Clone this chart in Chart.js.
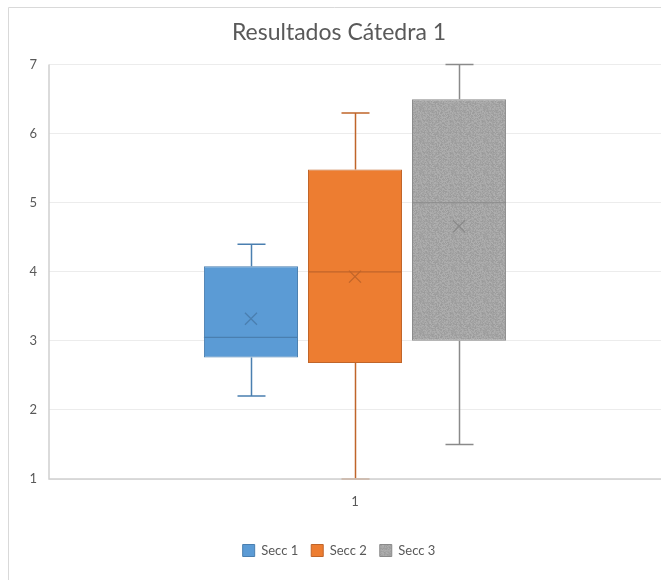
<!DOCTYPE html>
<html>
<head>
<meta charset="utf-8">
<title>Resultados Cátedra 1</title>
<script src="https://cdn.jsdelivr.net/npm/chart.js@4.4.1/dist/chart.umd.min.js"></script>
<style>
  html, body { margin: 0; padding: 0; background: #ffffff; }
  #wrap { position: relative; width: 661px; height: 580px; }
  canvas { display: block; }
</style>
</head>
<body>
<div id="wrap"><canvas id="chart" width="661" height="580"></canvas></div>
<script>
// Box-plot summary for each section (grades on the 1–7 scale)
const categories = ['1'];
const seriesNames = ['Secc 1', 'Secc 2', 'Secc 3'];
const minValues = [2.2, 1.0, 1.5];
const q1Values = [2.76, 2.68, 3.0];
const medianValues = [3.05, 4.0, 5.0];
const q3Values = [4.08, 5.48, 6.5];
const maxValues = [4.4, 6.3, 7.0];
const meanValues = [3.32, 3.93, 4.66];
const yTicks = [1, 2, 3, 4, 5, 6, 7];

const fillColors = ['#5B9BD5', '#ED7D31', '#A5A5A5'];
const edgeColors = ['#4A7FB0', '#C0652A', '#8A8A8A'];

// Fine grainy texture for the grey box
function grainPattern(base) {
  const c = document.createElement('canvas');
  c.width = 32; c.height = 32;
  const g = c.getContext('2d');
  g.fillStyle = base;
  g.fillRect(0, 0, 32, 32);
  const img = g.getImageData(0, 0, 32, 32);
  for (let p = 0; p < 32 * 32; p++) {
    const h = Math.sin(p * 12.9898 + 78.233) * 43758.5453;
    const n = ((h - Math.floor(h)) - 0.5) * 22;
    for (let k = 0; k < 3; k++) {
      img.data[p * 4 + k] = Math.max(0, Math.min(255, img.data[p * 4 + k] + n));
    }
  }
  g.putImageData(img, 0, 0);
  return g.createPattern(c, 'repeat');
}
const fills = [fillColors[0], fillColors[1], grainPattern(fillColors[2])];

// Whiskers, caps, median line, mean marker and the axis lines on top
const boxWhiskers = {
  id: 'boxWhiskers',
  beforeDraw(chart) {
    const ctx = chart.ctx;
    ctx.save();
    ctx.strokeStyle = '#d9d9d9';
    ctx.lineWidth = 1;
    ctx.beginPath();
    ctx.moveTo(8.5, chart.height);
    ctx.lineTo(8.5, 7.5);
    ctx.lineTo(chart.width, 7.5);
    ctx.stroke();
    ctx.restore();
  },
  afterDatasetsDraw(chart) {
    const ctx = chart.ctx;
    const y = chart.scales.y;
    const area = chart.chartArea;
    ctx.save();
    seriesNames.forEach((name, i) => {
      const bar = chart.getDatasetMeta(i).data[0];
      if (!bar) return;
      const cx = Math.round(bar.x) + 0.5;
      const half = bar.width / 2;
      const cap = 14;
      const yMin = y.getPixelForValue(minValues[i]);
      const yQ1 = y.getPixelForValue(q1Values[i]);
      const yMed = y.getPixelForValue(medianValues[i]);
      const yQ3 = y.getPixelForValue(q3Values[i]);
      const yMax = y.getPixelForValue(maxValues[i]);
      const yMean = y.getPixelForValue(meanValues[i]);
      ctx.strokeStyle = edgeColors[i];
      ctx.lineWidth = 1.5;
      ctx.beginPath();
      ctx.moveTo(cx, yQ3); ctx.lineTo(cx, yMax);
      ctx.moveTo(cx - cap, yMax); ctx.lineTo(cx + cap, yMax);
      ctx.moveTo(cx, yQ1); ctx.lineTo(cx, yMin);
      ctx.moveTo(cx - cap, yMin); ctx.lineTo(cx + cap, yMin);
      ctx.stroke();
      ctx.lineWidth = 1.2;
      ctx.beginPath();
      ctx.moveTo(bar.x - half, yMed); ctx.lineTo(bar.x + half, yMed);
      ctx.stroke();
      const m = 6;
      ctx.lineWidth = 1.3;
      ctx.beginPath();
      ctx.moveTo(bar.x - m, yMean - m); ctx.lineTo(bar.x + m, yMean + m);
      ctx.moveTo(bar.x - m, yMean + m); ctx.lineTo(bar.x + m, yMean - m);
      ctx.stroke();
    });
    ctx.strokeStyle = '#d0d0d0';
    ctx.lineWidth = 1.5;
    ctx.beginPath();
    ctx.moveTo(area.left, area.top);
    ctx.lineTo(area.left, area.bottom);
    ctx.lineTo(area.right, area.bottom);
    ctx.stroke();
    ctx.restore();
  }
};

const fontFamily = 'Lato, "Open Sans", sans-serif';

new Chart(document.getElementById('chart'), {
  type: 'bar',
  data: {
    labels: categories,
    datasets: seriesNames.map((name, i) => ({
      label: name,
      data: [[q1Values[i], q3Values[i]]],
      backgroundColor: fills[i],
      borderColor: edgeColors[i],
      borderWidth: 1,
      borderSkipped: false,
      categoryPercentage: 0.51,
      barPercentage: 0.904
    }))
  },
  options: {
    responsive: false,
    animation: false,
    devicePixelRatio: 1,
    layout: { padding: { left: 17, right: 0, top: 0, bottom: 13 } },
    plugins: {
      title: {
        display: true,
        text: 'Resultados Cátedra 1',
        color: '#595959',
        font: { family: fontFamily, size: 23, weight: 'normal' },
        padding: { top: 19, bottom: 18 }
      },
      legend: {
        position: 'bottom',
        labels: {
          color: '#595959',
          font: { family: fontFamily, size: 13 },
          boxWidth: 12,
          boxHeight: 12,
          padding: 13
        }
      },
      tooltip: { enabled: false }
    },
    scales: {
      x: {
        grid: { display: false, drawTicks: false },
        border: { display: false },
        ticks: { color: '#595959', font: { family: fontFamily, size: 13 }, padding: 15 },
        afterFit(scale) { scale.height = 52; }
      },
      y: {
        min: 1,
        max: 7,
        afterBuildTicks(scale) { scale.ticks = yTicks.map(v => ({ value: v })); },
        grid: { color: '#ececec', drawTicks: false },
        border: { display: false },
        ticks: { color: '#595959', font: { family: fontFamily, size: 13 }, padding: 12 },
        afterFit(scale) { scale.width = 32; }
      }
    }
  },
  plugins: [boxWhiskers]
});
</script>
</body>
</html>
